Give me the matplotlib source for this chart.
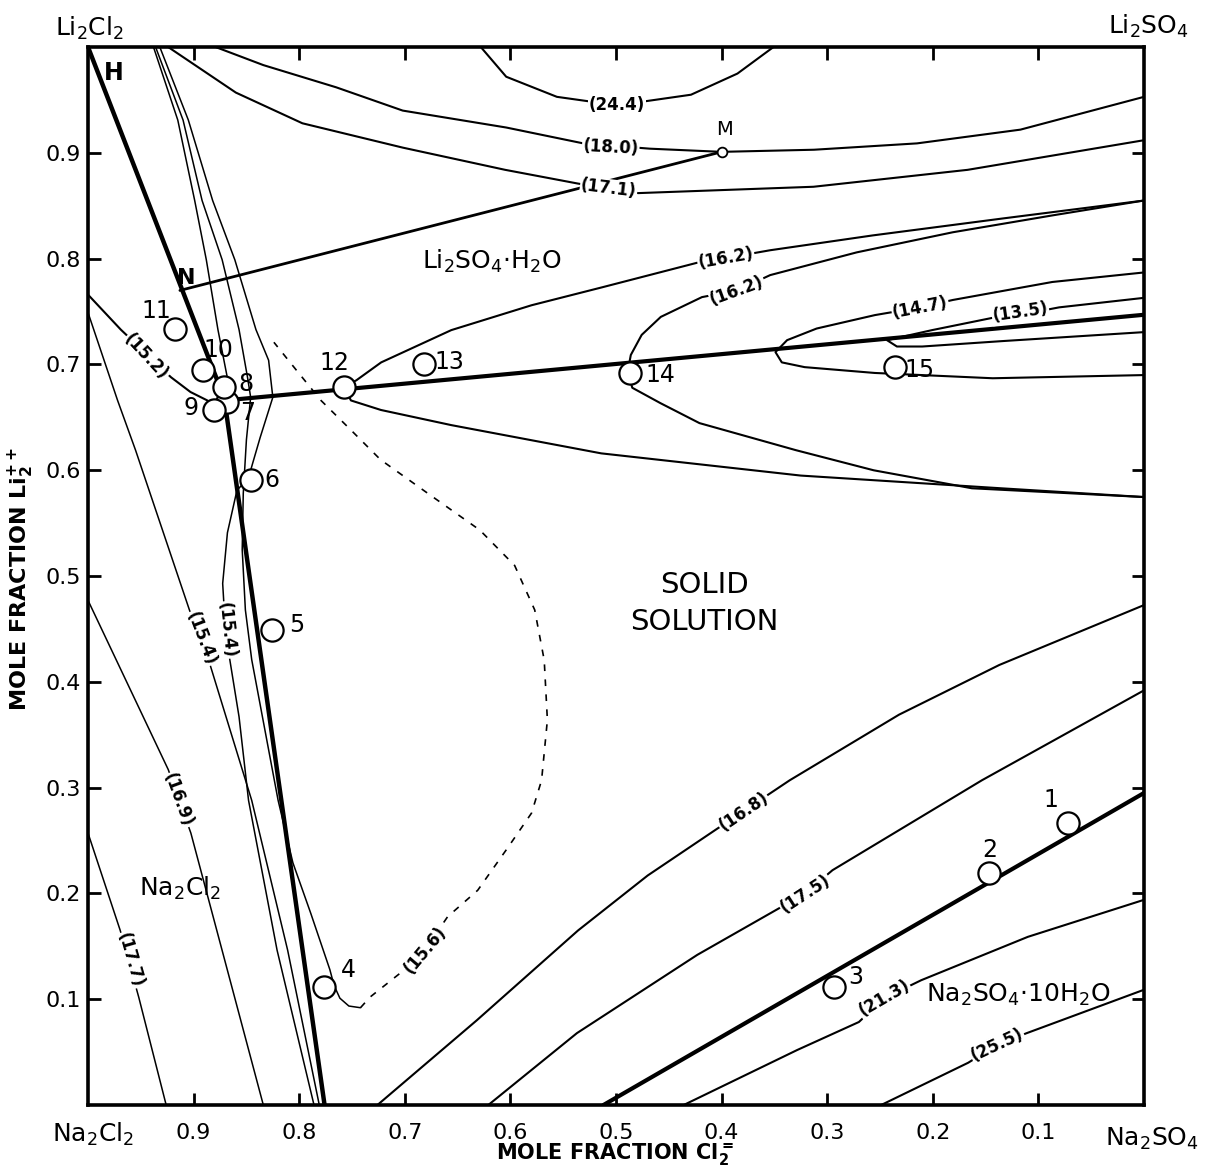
import matplotlib
matplotlib.use("Agg")
import matplotlib.pyplot as plt

plt.rcParams['font.family'] = ['DejaVu Sans']
plt.rcParams['mathtext.default'] = 'regular'

# ---- phase boundaries (mole fraction Cl2=, mole fraction Li2++) ----
nacl_bound_x = [1.0, 0.871, 0.776]
nacl_bound_y = [1.0, 0.668, 0.0]
tie_x = [0.871, 0.0]
tie_y = [0.666, 0.747]
na2so4_bound_x = [0.512, 0.0]
na2so4_bound_y = [0.0, 0.295]
nm_x = [0.913, 0.400]
nm_y = [0.770, 0.901]

# ---- isotherm-ish curves (labelled) ----
c244_x = [0.628, 0.604, 0.556, 0.499, 0.429, 0.385, 0.351]
c244_y = [1.0, 0.972, 0.953, 0.945, 0.955, 0.975, 1.0]
c180_x = [0.879, 0.834, 0.765, 0.702, 0.604, 0.531, 0.468, 0.400, 0.3125, 0.215, 0.117, 0.0]
c180_y = [1.0, 0.983, 0.962, 0.940, 0.924, 0.909, 0.904, 0.901, 0.903, 0.909, 0.922, 0.953]
c171_x = [0.924, 0.860, 0.797, 0.702, 0.605, 0.536, 0.479, 0.313, 0.167, 0.0]
c171_y = [1.0, 0.957, 0.928, 0.905, 0.884, 0.871, 0.862, 0.868, 0.884, 0.912]
c162a_x = [0.758, 0.746, 0.7224, 0.656, 0.580, 0.513, 0.420, 0.396, 0.354, 0.257, 0.134, 0.0]
c162a_y = [0.679, 0.685, 0.702, 0.7325, 0.756, 0.773, 0.797, 0.8006, 0.808, 0.822, 0.838, 0.855]
c162b_x = [0.0, 0.0863, 0.181, 0.272, 0.354, 0.3854, 0.4186, 0.4576, 0.4757, 0.486, 0.489,
           0.4846, 0.458, 0.421, 0.3296, 0.256, 0.163, 0.0]
c162b_y = [0.855, 0.841, 0.825, 0.806, 0.7845, 0.770, 0.7637, 0.745, 0.728, 0.709, 0.693,
           0.678, 0.6635, 0.6446, 0.619, 0.600, 0.583, 0.5747]
low12_x = [0.758, 0.751, 0.7226, 0.656, 0.514, 0.325, 0.1355, 0.0]
low12_y = [0.679, 0.666, 0.657, 0.6427, 0.616, 0.595, 0.583, 0.5747]
c147_x = [0.0, 0.0868, 0.181, 0.212, 0.2548, 0.310, 0.338, 0.349, 0.343, 0.3214, 0.255, 0.1433, 0.0]
c147_y = [0.787, 0.778, 0.761, 0.754, 0.7467, 0.734, 0.723, 0.7117, 0.702, 0.6975, 0.692, 0.687, 0.690]
c135_x = [0.0, 0.0804, 0.117, 0.144, 0.2007, 0.2434, 0.234, 0.210, 0.1344, 0.0]
c135_y = [0.763, 0.754, 0.747, 0.744, 0.7325, 0.723, 0.717, 0.717, 0.7221, 0.7306]
c152_x = [1.0, 0.969, 0.9215, 0.903, 0.887]
c152_y = [0.766, 0.733, 0.688, 0.674, 0.666]
c154o_x = [1.0, 0.972, 0.955, 0.904, 0.885, 0.845, 0.811, 0.781]
c154o_y = [0.749, 0.666, 0.619, 0.468, 0.418, 0.288, 0.1465, 0.0]
c169_x = [1.0, 0.924, 0.9026, 0.834]
c169_y = [0.477, 0.317, 0.257, 0.0]
c177_x = [1.0, 0.9695, 0.952, 0.926]
c177_y = [0.257, 0.165, 0.102, 0.0]
c168_x = [0.726, 0.632, 0.536, 0.470, 0.406, 0.3355, 0.232, 0.137, 0.0]
c168_y = [0.0, 0.080, 0.165, 0.217, 0.260, 0.307, 0.369, 0.416, 0.4726]
c175_x = [0.621, 0.537, 0.423, 0.321, 0.295, 0.1535, 0.0]
c175_y = [0.0, 0.068, 0.142, 0.200, 0.222, 0.307, 0.392]
c213_x = [0.436, 0.3285, 0.270, 0.246, 0.211, 0.110, 0.0]
c213_y = [0.0, 0.052, 0.0785, 0.101, 0.118, 0.159, 0.194]
c255_x = [0.249, 0.1665, 0.139, 0.111, 0.0]
c255_y = [0.0, 0.040, 0.057, 0.068, 0.109]
c156_x = [0.742, 0.733, 0.704, 0.681, 0.6595, 0.631, 0.602, 0.580, 0.5705, 0.565, 0.568,
          0.577, 0.596, 0.629, 0.676, 0.723, 0.751, 0.7794, 0.803, 0.824]
c156_y = [0.092, 0.102, 0.125, 0.1465, 0.178, 0.203, 0.244, 0.276, 0.307, 0.364, 0.4205,
          0.468, 0.510, 0.5435, 0.5766, 0.610, 0.638, 0.666, 0.695, 0.721]

# fan of thin lines from the top near Li2Cl2
fan1_x = [0.938, 0.915, 0.899, 0.888, 0.877, 0.867]
fan1_y = [1.0, 0.931, 0.855, 0.799, 0.733, 0.682]
fan2_x = [0.936, 0.910, 0.892, 0.873, 0.857, 0.849, 0.846, 0.850, 0.853, 0.854, 0.851, 0.845,
          0.820, 0.806, 0.789, 0.771, 0.767, 0.7615, 0.753, 0.742]
fan2_y = [1.0, 0.931, 0.855, 0.799, 0.733, 0.688, 0.669, 0.629, 0.578, 0.525, 0.468, 0.421,
          0.288, 0.229, 0.181, 0.128, 0.113, 0.101, 0.0936, 0.092]
fan3_x = [0.932, 0.905, 0.882, 0.861, 0.841, 0.829, 0.825, 0.837, 0.844, 0.848, 0.859, 0.868,
          0.8725, 0.871, 0.866, 0.857, 0.848, 0.821, 0.786]
fan3_y = [1.0, 0.931, 0.855, 0.799, 0.733, 0.704, 0.669, 0.631, 0.607, 0.593, 0.581, 0.541,
          0.493, 0.468, 0.4225, 0.367, 0.288, 0.1465, 0.0]

# curve labels: text, x, y, rotation
lab_text = ['(24.4)', '(18.0)', '(17.1)', '(16.2)', '(16.2)', '(14.7)', '(13.5)', '(15.2)',
            '(15.4)', '(15.4)', '(16.9)', '(17.7)', '(15.6)', '(16.8)', '(17.5)', '(21.3)', '(25.5)']
lab_x = [0.499, 0.505, 0.507, 0.396, 0.3854, 0.212, 0.117, 0.945,
         0.893, 0.869, 0.915, 0.960, 0.681, 0.379, 0.321, 0.246, 0.139]
lab_y = [0.945, 0.905, 0.866, 0.8006, 0.770, 0.754, 0.749, 0.707,
         0.441, 0.449, 0.288, 0.137, 0.1465, 0.277, 0.200, 0.101, 0.057]
lab_rot = [0, -3, -7, 10, 20, 11, 8, -47, -69, -84, -70, -74, 50, 34, 33, 30, 25]

# numbered experimental points
pt_names = ['1', '2', '3', '4', '5', '6', '7', '8', '9', '10', '11', '12', '13', '14', '15']
pt_x = [0.072, 0.1465, 0.294, 0.7765, 0.8254, 0.846, 0.868, 0.871, 0.881, 0.891, 0.918,
        0.758, 0.6816, 0.4864, 0.236]
pt_y = [0.2665, 0.219, 0.1115, 0.1115, 0.449, 0.591, 0.6645, 0.679, 0.657, 0.695, 0.734,
        0.679, 0.700, 0.692, 0.6975]
num_x = [0.088, 0.1465, 0.273, 0.753, 0.802, 0.8255, 0.849, 0.8504, 0.9027, 0.877, 0.935,
         0.767, 0.658, 0.458, 0.2124]
num_y = [0.288, 0.241, 0.121, 0.128, 0.4537, 0.591, 0.654, 0.682, 0.659, 0.714, 0.751,
         0.701, 0.702, 0.690, 0.6947]

ticks = [0.1, 0.2, 0.3, 0.4, 0.5, 0.6, 0.7, 0.8, 0.9]
tick_labels = ['0.1', '0.2', '0.3', '0.4', '0.5', '0.6', '0.7', '0.8', '0.9']

fig = plt.figure(figsize=(12.06, 11.69), dpi=100)
ax = fig.add_axes([0.0730, 0.0547, 0.8756, 0.9050])
ax.set_xlim(1.0, 0.0)
ax.set_ylim(0.0, 1.0)


def line(xs, ys, lw=1.3, **kw):
    ax.plot(xs, ys, color='black', lw=lw, solid_capstyle='round', zorder=2, **kw)


# thick boundaries
line(nacl_bound_x, nacl_bound_y, lw=3.2)
line(tie_x, tie_y, lw=3.0)
line(na2so4_bound_x, na2so4_bound_y, lw=3.0)
line(nm_x, nm_y, lw=2.0)

# curves
for xs, ys in [(c244_x, c244_y), (c180_x, c180_y), (c171_x, c171_y), (c162a_x, c162a_y),
               (c162b_x, c162b_y), (low12_x, low12_y), (c147_x, c147_y), (c135_x, c135_y),
               (c152_x, c152_y), (c168_x, c168_y), (c175_x, c175_y), (c213_x, c213_y),
               (c255_x, c255_y)]:
    line(xs, ys, lw=1.5)
for xs, ys in [(c154o_x, c154o_y), (c169_x, c169_y), (c177_x, c177_y),
               (fan1_x, fan1_y), (fan2_x, fan2_y), (fan3_x, fan3_y)]:
    line(xs, ys, lw=1.1)
ax.plot(c156_x, c156_y, color='black', lw=1.2, ls=(0, (4, 5)), zorder=2)

for t, x, y, r in zip(lab_text, lab_x, lab_y, lab_rot):
    ax.text(x, y, t, rotation=r, rotation_mode='anchor', ha='center', va='center',
            fontsize=12, fontweight='bold', zorder=3,
            bbox=dict(facecolor='white', edgecolor='none', pad=0.6))

# points
ax.plot(pt_x, pt_y, 'o', ms=16, mfc='white', mec='black', mew=1.6, zorder=4)
for n, x, y in zip(pt_names, num_x, num_y):
    ax.text(x, y, n, ha='center', va='center', fontsize=17, zorder=5)
ax.plot([nm_x[1]], [nm_y[1]], 'o', ms=7, mfc='white', mec='black', mew=1.3, zorder=4)
ax.text(0.397, 0.922, 'M', ha='center', va='center', fontsize=14, zorder=5)
ax.text(0.9066, 0.7817, 'N', ha='center', va='center', fontsize=16, fontweight='bold', zorder=5)
ax.text(0.976, 0.976, 'H', ha='center', va='center', fontsize=17, fontweight='bold', zorder=5)

# region labels
ax.text(0.6174, 0.797, 'Li$_2$SO$_4$$\\cdot$H$_2$O', ha='center', va='center', fontsize=18)
ax.text(0.416, 0.4915, 'SOLID', ha='center', va='center', fontsize=21)
ax.text(0.416, 0.4565, 'SOLUTION', ha='center', va='center', fontsize=21)
ax.text(0.9125, 0.205, 'Na$_2$Cl$_2$', ha='center', va='center', fontsize=18)
ax.text(0.119, 0.104, 'Na$_2$SO$_4$$\\cdot$10H$_2$O', ha='center', va='center', fontsize=18)

# axes styling
for s in ax.spines.values():
    s.set_linewidth(2.6)
ax.set_xticks(ticks)
ax.set_xticklabels(tick_labels)
ax.set_yticks(ticks)
ax.set_yticklabels(tick_labels)
ax.tick_params(direction='in', length=9, width=2, top=True, right=True, labelsize=16)
ax.tick_params(axis='x', pad=13)
ax.tick_params(axis='y', pad=5)

# corner and axis titles
fig.text(0.0746, 0.976, 'Li$_2$Cl$_2$', ha='center', va='center', fontsize=18)
fig.text(0.952, 0.977, 'Li$_2$SO$_4$', ha='center', va='center', fontsize=18)
fig.text(0.0771, 0.030, 'Na$_2$Cl$_2$', ha='center', va='center', fontsize=18)
fig.text(0.955, 0.026, 'Na$_2$SO$_4$', ha='center', va='center', fontsize=18)
fig.text(0.51, 0.012, 'MOLE FRACTION Cl$_2^{=}$', ha='center', va='center',
         fontsize=15, fontweight='bold')
fig.text(0.018, 0.505, 'MOLE FRACTION Li$_2^{++}$', ha='center', va='center',
         fontsize=16, fontweight='bold', rotation=90)

fig.savefig('out.png', dpi=100)
